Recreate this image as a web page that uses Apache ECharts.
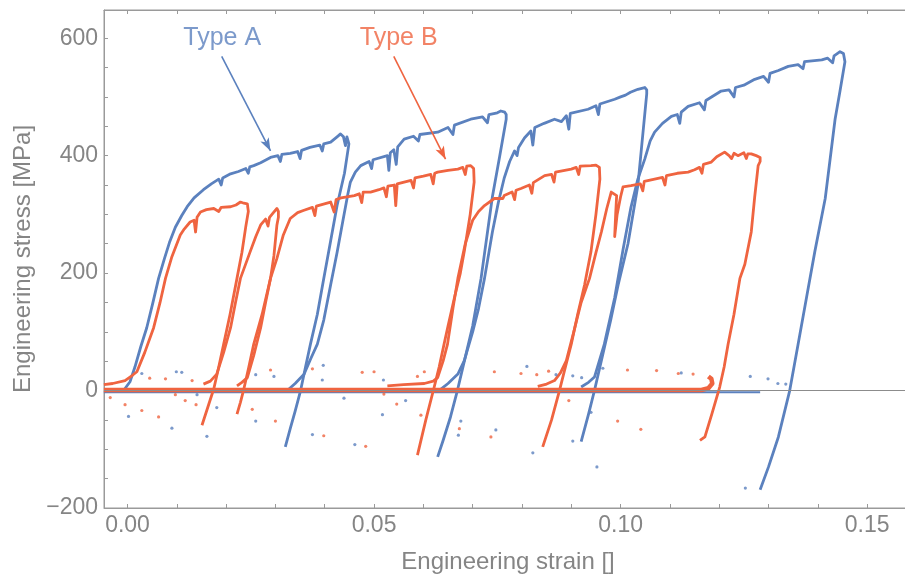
<!DOCTYPE html>
<html>
<head>
<meta charset="utf-8">
<script src="https://cdn.jsdelivr.net/npm/echarts@6/dist/echarts.min.js"></script>
<style>
  html, body { margin: 0; padding: 0; background: #fff; overflow: hidden; }
  /* a little wider than the window so the right frame edge falls outside, as in the original */
  #chart { width: 912px; height: 579px; }
</style>
</head>
<body>
<div id="chart"></div>
<script>
// tick positions / labels
const xTickValues = [0, 0.01, 0.02, 0.03, 0.04, 0.05, 0.06, 0.07, 0.08, 0.09, 0.10, 0.11, 0.12, 0.13, 0.14, 0.15]
const xLabelValues = [0, 0.05, 0.10, 0.15]
const yTickValues = [-200, -150, -100, -50, 0, 50, 100, 150, 200, 250, 300, 350, 400, 450, 500, 550, 600]
const yLabelValues = [-200, 0, 200, 400, 600]

// Type A (blue), one array per load/unload cycle: [strain, stress]
const typeA1 = [[-0.0008,0],[0.0005,15],[0.0015,40],[0.0027,75],[0.0039,107],[0.0051,148],[0.0063,191],[0.0075,225],[0.0085,252],[0.0097,278],[0.0110,298],[0.0121,313],[0.0135,328],[0.0154,342],[0.0170,352],[0.0185,360],[0.0190,350],[0.0193,362],[0.0209,369],[0.0225,373],[0.0240,378],[0.0245,370],[0.0248,381],[0.0256,383],[0.0270,388],[0.0290,397],[0.0305,400],[0.0310,390],[0.0313,402],[0.0330,404],[0.0345,407],[0.0350,395],[0.0353,409],[0.0370,414],[0.0390,418],[0.0395,408],[0.0398,420],[0.0412,423],[0.0425,432],[0.0432,437],[0.0438,432],[0.0442,417],[0.0445,432],[0.0449,431],[0.0449,420],[0.0440,370],[0.0425,315],[0.0412,255],[0.0398,191],[0.0385,130],[0.0371,79],[0.0361,40],[0.0351,0],[0.0340,-35],[0.0330,-65],[0.0320,-96]]
const typeA2 = [[0.0324,0],[0.0340,12],[0.0358,28],[0.0372,55],[0.0385,79],[0.0398,120],[0.0412,180],[0.0425,235],[0.0437,290],[0.0447,335],[0.0452,355],[0.0462,372],[0.0473,383],[0.0490,390],[0.0495,378],[0.0498,393],[0.0527,400],[0.0530,375],[0.0533,405],[0.0540,410],[0.0545,385],[0.0548,415],[0.0561,428],[0.0580,433],[0.0590,425],[0.0593,436],[0.0629,440],[0.0650,448],[0.0660,436],[0.0663,452],[0.0696,462],[0.0720,466],[0.0730,456],[0.0733,470],[0.0750,473],[0.0757,476],[0.0765,474],[0.0768,470],[0.0768,462],[0.0755,400],[0.0740,330],[0.0717,191],[0.0700,110],[0.0680,39],[0.0669,0],[0.0655,-45],[0.0640,-85],[0.0629,-113]]
const typeA3 = [[0.0635,2],[0.0650,12],[0.0670,28],[0.0683,51],[0.0700,100],[0.0712,140],[0.0724,191],[0.0740,270],[0.0752,320],[0.0764,362],[0.0775,390],[0.0785,408],[0.0790,400],[0.0793,414],[0.0805,430],[0.0818,442],[0.0822,418],[0.0826,448],[0.0845,455],[0.0866,462],[0.0880,458],[0.0890,468],[0.0895,445],[0.0898,472],[0.0934,479],[0.0950,485],[0.0955,470],[0.0958,488],[0.0988,496],[0.1000,500],[0.1010,503],[0.1020,508],[0.1035,513],[0.1049,516],[0.1053,512],[0.1053,505],[0.1035,349],[0.1015,250],[0.0995,180],[0.0980,120],[0.0961,51],[0.0947,0],[0.0935,-40],[0.0920,-87]]
const typeA4 = [[0.0920,6],[0.0935,14],[0.0947,23],[0.0967,79],[0.0988,158],[0.1005,240],[0.1021,312],[0.1035,360],[0.1049,394],[0.1060,425],[0.1069,440],[0.1085,455],[0.1103,467],[0.1115,470],[0.1120,455],[0.1123,474],[0.1137,484],[0.1160,490],[0.1170,478],[0.1173,494],[0.1204,510],[0.1220,512],[0.1230,500],[0.1233,516],[0.1250,520],[0.1272,530],[0.1290,535],[0.1300,525],[0.1303,540],[0.1320,545],[0.1340,552],[0.1360,555],[0.1370,548],[0.1373,560],[0.1408,563],[0.1420,566],[0.1430,558],[0.1433,570],[0.1445,577],[0.1452,574],[0.1455,560],[0.1445,510],[0.1435,462],[0.1415,327],[0.1394,237],[0.1377,158],[0.1360,79],[0.1343,0],[0.1320,-79],[0.1300,-130],[0.1283,-169]]
const typeAZero = [[-0.0048,-3],[0.1283,-3]]
const typeAStray = [[0.0002,-44],[0.0029,29],[0.0090,-64],[0.0099,32],[0.0110,31],[0.0141,-7],[0.0161,-78],[0.0181,-29],[0.0260,-52],[0.0260,27],[0.0297,24],[0.0375,-75],[0.0395,18],[0.0397,43],[0.0439,-13],[0.0461,-92],[0.0517,-41],[0.0519,18],[0.0564,-17],[0.0676,-52],[0.0671,-76],[0.0676,37],[0.0747,-67],[0.0810,41],[0.0822,-106],[0.0869,27],[0.0903,25],[0.0903,-86],[0.0921,22],[0.0940,-37],[0.0952,-130],[0.0964,38],[0.1123,30],[0.1263,24],[0.1299,20],[0.1319,12],[0.1335,11],[0.1253,-166]]

// Type B (orange)
const typeB1 = [[-0.0048,10],[-0.0030,12],[-0.0005,17],[0.0010,26],[0.0019,32],[0.0035,65],[0.0053,107],[0.0066,150],[0.0077,191],[0.0090,228],[0.0107,265],[0.0115,275],[0.0127,287],[0.0135,290],[0.0138,270],[0.0141,295],[0.0148,304],[0.0160,308],[0.0175,310],[0.0185,305],[0.0190,312],[0.0209,313],[0.0220,316],[0.0229,321],[0.0236,319],[0.0243,318],[0.0245,305],[0.0240,280],[0.0232,235],[0.0222,191],[0.0208,130],[0.0195,79],[0.0185,40],[0.0175,3],[0.0163,-28],[0.0151,-59]]
const typeB2 = [[0.0154,11],[0.0168,16],[0.0181,28],[0.0195,65],[0.0209,107],[0.0219,150],[0.0229,191],[0.0249,237],[0.0260,262],[0.0270,282],[0.0280,292],[0.0285,280],[0.0288,295],[0.0295,302],[0.0303,310],[0.0306,305],[0.0306,295],[0.0303,282],[0.0297,230],[0.0290,191],[0.0273,130],[0.0256,79],[0.0246,40],[0.0236,3],[0.0229,-20],[0.0222,-40]]
const typeB3 = [[0.0222,8],[0.0232,14],[0.0243,22],[0.0256,60],[0.0270,107],[0.0280,150],[0.0290,191],[0.0303,225],[0.0316,265],[0.0330,293],[0.0345,303],[0.0358,307],[0.0375,312],[0.0380,298],[0.0383,314],[0.0412,321],[0.0419,304],[0.0423,325],[0.0433,328],[0.0460,332],[0.0470,335],[0.0475,320],[0.0478,338],[0.0493,338],[0.0510,342],[0.0520,345],[0.0525,330],[0.0528,348],[0.0541,350],[0.0544,315],[0.0547,352],[0.0561,355],[0.0575,358],[0.0580,345],[0.0583,362],[0.0600,365],[0.0615,368],[0.0620,352],[0.0623,370],[0.0629,372],[0.0650,375],[0.0670,377],[0.0680,380],[0.0685,368],[0.0688,382],[0.0696,383],[0.0702,378],[0.0703,355],[0.0695,300],[0.0683,237],[0.0675,200],[0.0663,158],[0.0650,110],[0.0642,79],[0.0632,40],[0.0622,6],[0.0605,-50],[0.0588,-110]]
const typeB4 = [[0.0527,8],[0.0560,10],[0.0602,12],[0.0620,16],[0.0629,22],[0.0640,50],[0.0649,79],[0.0660,140],[0.0670,191],[0.0685,250],[0.0700,290],[0.0712,305],[0.0724,315],[0.0744,327],[0.0761,327],[0.0764,332],[0.0780,338],[0.0785,325],[0.0788,341],[0.0798,344],[0.0815,350],[0.0820,336],[0.0823,354],[0.0846,366],[0.0860,368],[0.0865,355],[0.0868,372],[0.0900,377],[0.0910,380],[0.0915,368],[0.0918,382],[0.0940,383],[0.0950,384],[0.0957,380],[0.0958,360],[0.0950,300],[0.0940,237],[0.0927,180],[0.0913,130],[0.0900,79],[0.0888,40],[0.0876,0],[0.0860,-50],[0.0842,-96]]
const typeB5 = [[0.0832,7],[0.0850,11],[0.0866,17],[0.0878,30],[0.0890,51],[0.0905,100],[0.0920,150],[0.0937,191],[0.0950,235],[0.0961,270],[0.0972,310],[0.0981,338],[0.0992,332],[0.0990,300],[0.0988,262],[0.0993,300],[0.1000,330],[0.1005,347],[0.1021,349],[0.1040,352],[0.1045,340],[0.1048,356],[0.1069,360],[0.1085,363],[0.1090,350],[0.1093,366],[0.1115,370],[0.1137,372],[0.1150,376],[0.1160,380],[0.1165,370],[0.1168,385],[0.1184,389],[0.1195,398],[0.1211,406],[0.1220,400],[0.1225,395],[0.1230,404],[0.1238,400],[0.1250,405],[0.1255,395],[0.1258,403],[0.1265,403],[0.1275,400],[0.1283,397],[0.1283,390],[0.1279,383],[0.1272,330],[0.1265,270],[0.1252,215],[0.1242,191],[0.1230,130],[0.1218,79],[0.1210,40],[0.1201,6],[0.1185,-40],[0.1171,-79],[0.1161,-85]]
const typeBZero = [[-0.0048,1],[0.1164,1],[0.1178,4],[0.1186,12],[0.1184,20],[0.1178,24]]
const typeBStray = [[-0.0035,-12],[-0.0005,-24],[0.0029,-34],[0.0045,21],[0.0063,-45],[0.0077,20],[0.0097,-7],[0.0117,-17],[0.0131,17],[0.0139,-24],[0.0253,-32],[0.0290,35],[0.0300,-52],[0.0375,37],[0.0398,-77],[0.0483,-95],[0.0476,31],[0.0500,32],[0.0520,-6],[0.0546,-23],[0.0588,24],[0.0595,-42],[0.0602,32],[0.0673,-65],[0.0737,-79],[0.0744,32],[0.0798,29],[0.0830,27],[0.0854,33],[0.0895,-17],[0.0994,-52],[0.1014,35],[0.1041,-66],[0.1073,34],[0.1117,29],[0.1147,28]]

// annotations
const annotText = ['Type A', 'Type B']
const annotPos = [[0.0192, 600], [0.0550, 600]]
const arrowFrom = [[0.0191, 569], [0.0540, 569]]
const arrowTo = [[0.0290, 408], [0.0645, 394]]

const blue = '#5B81BE'
const orange = '#EF6440'
const grayLine = '#9a9a9a'
const grayText = '#858585'
const font = 'Liberation Sans'

const chart = echarts.init(document.getElementById('chart'), null, { renderer: 'canvas' })

function curve(data, color, width) {
  return {
    type: 'line',
    data: data,
    showSymbol: false,
    symbol: 'none',
    animation: false,
    silent: true,
    z: 3,
    lineStyle: { color: color, width: width, join: 'round' }
  }
}

function dots(data, color) {
  return {
    type: 'scatter',
    data: data,
    symbolSize: 3.2,
    animation: false,
    silent: true,
    z: 3,
    itemStyle: { color: color }
  }
}

const blueCycles = [typeA1, typeA2, typeA3, typeA4]
const orangeCycles = [typeB1, typeB2, typeB3, typeB4, typeB5]

const series = [
  // zero axis line (Mathematica Axes)
  {
    type: 'line',
    data: [],
    animation: false,
    z: 1,
    markLine: {
      silent: true,
      symbol: ['none', 'none'],
      label: { show: false },
      lineStyle: { color: '#8c8c8c', width: 1, type: 'solid' },
      data: [{ yAxis: 0 }]
    }
  },
  curve(typeAZero, blue, 2),
  dots(typeAStray, blue),
  ...blueCycles.map(c => curve(c, blue, 2.8)),
  curve(typeBZero, orange, 4.5),
  dots(typeBStray, orange),
  ...orangeCycles.map(c => curve(c, orange, 2.8)),
  {
    type: 'scatter',
    data: annotPos.map((p, i) => ({
      value: p,
      name: annotText[i],
      label: { color: i === 0 ? blue : orange }
    })),
    symbolSize: 0,
    animation: false,
    silent: true,
    label: {
      show: true,
      position: 'inside',
      formatter: p => p.name,
      fontFamily: font,
      fontSize: 25
    },
    itemStyle: { color: 'transparent' }
  },
  ...arrowFrom.map((p, i) => ({
    type: 'line',
    data: [],
    animation: false,
    markLine: {
      silent: true,
      symbol: ['none', 'arrow'],
      symbolSize: [7, 13],
      label: { show: false },
      lineStyle: { color: i === 0 ? blue : orange, width: 1.6, type: 'solid' },
      data: [[{ coord: p }, { coord: arrowTo[i] }]]
    }
  }))
]

const option = {
  backgroundColor: '#fff',
  animation: false,
  grid: {
    left: 104,
    right: 0,
    top: 10,
    bottom: 68,
    show: true,
    borderColor: grayLine,
    borderWidth: 1
  },
  xAxis: [
    {
      type: 'value',
      min: -0.00477,
      max: 0.1591,
      position: 'bottom',
      name: 'Engineering strain []',
      nameLocation: 'middle',
      nameGap: 42,
      nameTextStyle: { fontFamily: font, fontSize: 24, color: grayText },
      axisLine: { show: true, onZero: false, lineStyle: { color: grayLine } },
      axisTick: { inside: true, length: 4, customValues: xTickValues, lineStyle: { color: grayLine } },
      axisLabel: {
        customValues: xLabelValues,
        formatter: v => v.toFixed(2),
        fontFamily: font,
        fontSize: 23,
        color: grayText,
        margin: 6
      },
      splitLine: { show: false }
    },
    {
      type: 'value',
      min: -0.00477,
      max: 0.1591,
      position: 'top',
      axisLine: { show: true, onZero: false, lineStyle: { color: grayLine } },
      axisTick: { inside: true, length: 4, customValues: xTickValues, lineStyle: { color: grayLine } },
      axisLabel: { show: false },
      splitLine: { show: false }
    }
  ],
  yAxis: {
    type: 'value',
    min: -200,
    max: 648,
    position: 'left',
    name: 'Engineering stress [MPa]',
    nameLocation: 'middle',
    nameGap: 64,
    nameTextStyle: { fontFamily: font, fontSize: 24, color: grayText },
    axisLine: { show: true, onZero: false, lineStyle: { color: grayLine } },
    axisTick: { inside: true, length: 4, customValues: yTickValues, lineStyle: { color: grayLine } },
    axisLabel: {
      customValues: yLabelValues,
      formatter: v => String(v).replace('-', '\u2212'),
      fontFamily: font,
      fontSize: 23,
      color: grayText,
      margin: 6
    },
    splitLine: { show: false }
  },
  series: series
}

chart.setOption(option)
</script>
</body>
</html>
